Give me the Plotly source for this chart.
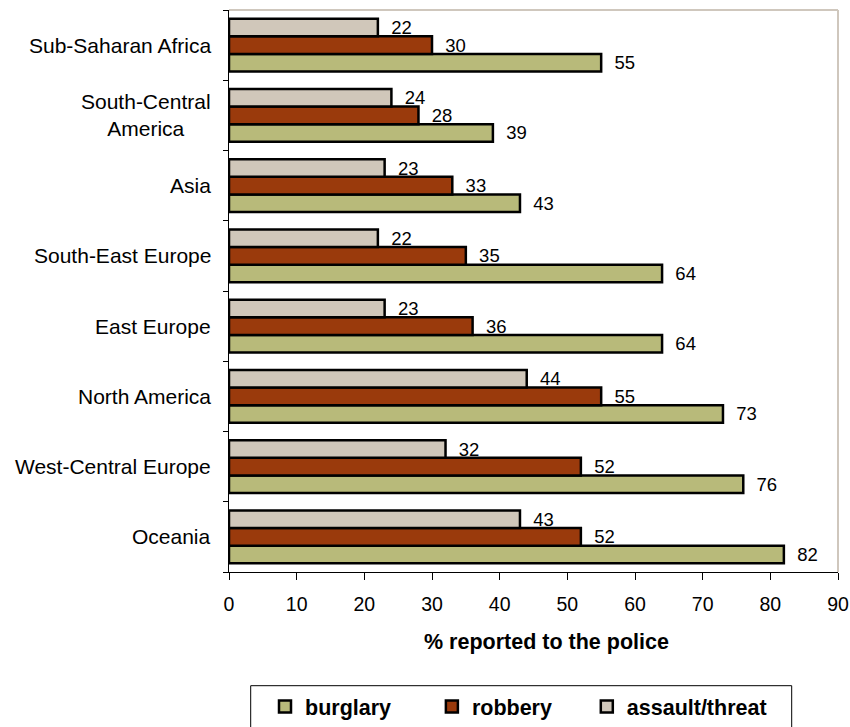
import plotly.graph_objects as go

categories = ["Sub-Saharan Africa", "South-Central<br>America", "Asia", "South-East Europe",
              "East Europe", "North America", "West-Central Europe", "Oceania"]
burglary = [55, 39, 43, 64, 64, 73, 76, 82]
robbery = [30, 28, 33, 35, 36, 55, 52, 52]
assault = [22, 24, 23, 22, 23, 44, 32, 43]
series_names = ["burglary", "robbery", "assault/threat"]
series_colors = ["#B8BA7A", "#9A3A0C", "#D0C7BA"]
x_ticks = [0, 10, 20, 30, 40, 50, 60, 70, 80, 90]
x_title = "% reported to the police"

FONT = "Liberation Sans, Arial, sans-serif"
NB = "\u00a0\u00a0"
PAD = ["\u00a0" * 6, "\u00a0" * 5, ""]  # spacing between legend entries

L, T, PW, PH = 229, 10, 609, 562
W, H = 850, 727

def py(page_y):
    return (572 - page_y) / 562

def px(page_x):
    return (page_x - 229) / 609

fig = go.Figure()
for name, vals, col, pad in zip(series_names, [burglary, robbery, assault], series_colors, PAD):
    fig.add_trace(go.Bar(
        name=name + pad, y=categories, x=vals, orientation="h",
        marker=dict(color=col, line=dict(color="black", width=2.5)),
        text=[NB + str(v) for v in vals], textposition="outside",
        textfont=dict(family=FONT, size=18.5, color="black"),
        constraintext="none", cliponaxis=False,
    ))

# category labels as centered annotations
for c in categories:
    fig.add_annotation(x=px(213), xref="paper", y=c, yref="y", text=c,
                       xanchor="right", yanchor="middle", align="center",
                       showarrow=False, font=dict(family=FONT, size=21, color="black"))

fig.add_annotation(x=px(546.5), xref="paper", y=py(642), yref="paper",
                   text="<b>" + x_title + "</b>", showarrow=False,
                   xanchor="center", yanchor="middle",
                   font=dict(family=FONT, size=21.5, color="black"))

# top/right plot border and legend frame
fig.add_shape(type="line", xref="paper", yref="paper", x0=0, x1=1, y0=1, y1=1,
              line=dict(color="#CFC7BD", width=2))
fig.add_shape(type="line", xref="paper", yref="paper", x0=1, x1=1, y0=0, y1=1,
              line=dict(color="#CFC7BD", width=2))
fig.add_shape(type="rect", xref="paper", yref="paper",
              x0=px(250.7), x1=px(791.7), y0=py(760), y1=py(685.7),
              line=dict(color="black", width=1), fillcolor="rgba(0,0,0,0)")

fig.update_layout(
    width=W, height=H,
    margin=dict(l=L, r=W - L - PW, t=T, b=H - T - PH, autoexpand=False),
    paper_bgcolor="white", plot_bgcolor="white",
    barmode="group", bargap=0.25, bargroupgap=0,
    font=dict(family=FONT, color="black"),
    showlegend=True,
    legend=dict(orientation="h", x=px(265), xanchor="left",
                y=py(686), yanchor="top",
                font=dict(family=FONT, size=21.5, color="black", weight="bold"),
                bgcolor="rgba(0,0,0,0)", borderwidth=0, traceorder="normal"),
    xaxis=dict(range=[0, 90], tickvals=x_ticks, ticktext=[str(t) for t in x_ticks],
               showgrid=False, zeroline=False, showline=True, linecolor="black", linewidth=1,
               ticks="outside", ticklen=7, tickcolor="black",
               tickfont=dict(family=FONT, size=19.5, color="black"),
               ticklabelstandoff=8, fixedrange=True),
    yaxis=dict(categoryorder="array", categoryarray=categories[::-1],
               showgrid=False, zeroline=False, showline=True, linecolor="black", linewidth=1,
               ticks="outside", ticklen=5, tickcolor="black", tickson="boundaries",
               showticklabels=False, fixedrange=True),
)

fig.write_html("out.html", config={"displayModeBar": False},
               post_script="document.body.style.margin='0';document.body.style.overflow='hidden';")
